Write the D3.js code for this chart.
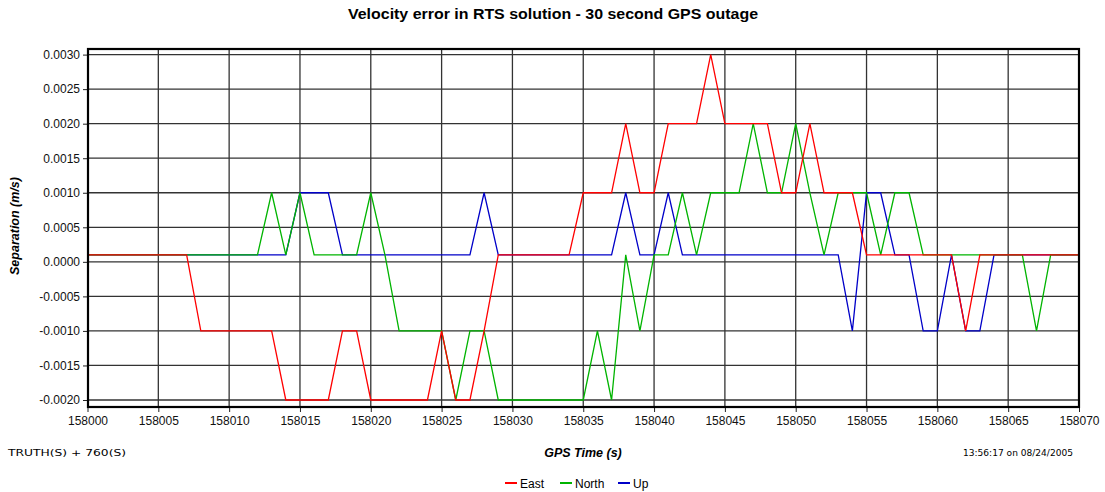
<!DOCTYPE html>
<html>
<head>
<meta charset="utf-8">
<script src="https://cdn.jsdelivr.net/npm/d3@7"></script>
<style>
  html, body { margin: 0; padding: 0; background: #fff; }
  svg { display: block; font-family: "Liberation Sans", Arial, sans-serif; }
</style>
</head>
<body>
<svg id="chart" width="1105" height="492"></svg>
<script>
// GPS time stamps, one sample per second
const times = d3.range(158000, 158071);

// Velocity separation per axis (m/s), one value per second
const east = [
  0.0001, 0.0001, 0.0001, 0.0001, 0.0001, 0.0001, 0.0001, 0.0001, -0.001, -0.001,
  -0.001, -0.001, -0.001, -0.001, -0.002, -0.002, -0.002, -0.002, -0.001, -0.001,
  -0.002, -0.002, -0.002, -0.002, -0.002, -0.001, -0.002, -0.002, -0.001, 0.0001,
  0.0001, 0.0001, 0.0001, 0.0001, 0.0001, 0.001, 0.001, 0.001, 0.002, 0.001,
  0.001, 0.002, 0.002, 0.002, 0.003, 0.002, 0.002, 0.002, 0.002, 0.001,
  0.001, 0.002, 0.001, 0.001, 0.001, 0.0001, 0.0001, 0.0001, 0.0001, 0.0001,
  0.0001, 0.0001, -0.001, 0.0001, 0.0001, 0.0001, 0.0001, 0.0001, 0.0001, 0.0001,
  0.0001
];
const north = [
  0.0001, 0.0001, 0.0001, 0.0001, 0.0001, 0.0001, 0.0001, 0.0001, 0.0001, 0.0001,
  0.0001, 0.0001, 0.0001, 0.001, 0.0001, 0.001, 0.0001, 0.0001, 0.0001, 0.0001,
  0.001, 0.0001, -0.001, -0.001, -0.001, -0.001, -0.002, -0.001, -0.001, -0.002,
  -0.002, -0.002, -0.002, -0.002, -0.002, -0.002, -0.001, -0.002, 0.0001, -0.001,
  0.0001, 0.0001, 0.001, 0.0001, 0.001, 0.001, 0.001, 0.002, 0.001, 0.001,
  0.002, 0.001, 0.0001, 0.001, 0.001, 0.001, 0.0001, 0.001, 0.001, 0.0001,
  0.0001, 0.0001, 0.0001, 0.0001, 0.0001, 0.0001, 0.0001, -0.001, 0.0001, 0.0001,
  0.0001
];
const up = [
  0.0001, 0.0001, 0.0001, 0.0001, 0.0001, 0.0001, 0.0001, 0.0001, 0.0001, 0.0001,
  0.0001, 0.0001, 0.0001, 0.0001, 0.0001, 0.001, 0.001, 0.001, 0.0001, 0.0001,
  0.0001, 0.0001, 0.0001, 0.0001, 0.0001, 0.0001, 0.0001, 0.0001, 0.001, 0.0001,
  0.0001, 0.0001, 0.0001, 0.0001, 0.0001, 0.0001, 0.0001, 0.0001, 0.001, 0.0001,
  0.0001, 0.001, 0.0001, 0.0001, 0.0001, 0.0001, 0.0001, 0.0001, 0.0001, 0.0001,
  0.0001, 0.0001, 0.0001, 0.0001, -0.001, 0.001, 0.001, 0.0001, 0.0001, -0.001,
  -0.001, 0.0001, -0.001, -0.001, 0.0001, 0.0001, 0.0001, 0.0001, 0.0001, 0.0001,
  0.0001
];

const xTicks = d3.range(158000, 158071, 5);
const yTicks = [0.003, 0.0025, 0.002, 0.0015, 0.001, 0.0005, 0, -0.0005, -0.001, -0.0015, -0.002];

const seriesNames = ["East", "North", "Up"];
const seriesColors = ["#ff0000", "#00b400", "#0000c8"];
const seriesValues = [east, north, up];

const svg = d3.select("#chart");

// plot frame
const frame = { left: 88, right: 1079, top: 49, bottom: 407 };

const x = d3.scaleLinear().domain([158000, 158070]).range([87.5, 1079]);
const y = d3.scaleLinear().domain([-0.002, 0.003]).range([400, 54.6]);

// gridlines
const grid = svg.append("g").attr("stroke", "#333").attr("stroke-width", 1.3);
grid.selectAll("line.h").data(yTicks).join("line")
  .attr("class", "h")
  .attr("x1", frame.left).attr("x2", frame.right)
  .attr("y1", d => y(d)).attr("y2", d => y(d));
grid.selectAll("line.v").data(xTicks.slice(1, -1)).join("line")
  .attr("class", "v")
  .attr("x1", d => x(d)).attr("x2", d => x(d))
  .attr("y1", frame.top).attr("y2", frame.bottom);

// axes (ticks and labels only; the frame is drawn separately)
const yAxis = d3.axisLeft(y).tickValues(yTicks).tickSize(5).tickPadding(3)
  .tickFormat(d => d3.format(".4f")(d).replace("\u2212", "-"));
const gy = svg.append("g").attr("transform", `translate(${frame.left},0)`).call(yAxis);
gy.select(".domain").remove();
gy.selectAll("text").attr("font-size", 12).attr("fill", "#111")
  .attr("font-family", "Liberation Sans, Arial, sans-serif");
gy.selectAll("line").attr("stroke", "#222");

const xAxis = d3.axisBottom(x).tickValues(xTicks).tickFormat(d3.format("d")).tickSize(5).tickPadding(4);
const gx = svg.append("g").attr("transform", `translate(0,${frame.bottom})`).call(xAxis);
gx.select(".domain").remove();
gx.selectAll("text").attr("font-size", 12).attr("fill", "#111")
  .attr("font-family", "Liberation Sans, Arial, sans-serif");
gx.selectAll("line").attr("stroke", "#222");

// data lines: Up first, then North, East on top
const line = d3.line().x((d, i) => x(times[i])).y(d => y(d));
[2, 1, 0].forEach(k => {
  svg.append("path")
    .datum(seriesValues[k])
    .attr("fill", "none")
    .attr("stroke", seriesColors[k])
    .attr("stroke-width", 1.3)
    .attr("d", line);
});

// frame
svg.append("rect")
  .attr("x", frame.left).attr("y", frame.top)
  .attr("width", frame.right - frame.left).attr("height", frame.bottom - frame.top)
  .attr("fill", "none").attr("stroke", "#000").attr("stroke-width", 2.2);

// title
svg.append("text")
  .attr("x", 553).attr("y", 19)
  .attr("text-anchor", "middle")
  .attr("font-weight", "bold").attr("font-size", 15)
  .attr("textLength", 410).attr("lengthAdjust", "spacingAndGlyphs")
  .text("Velocity error in RTS solution - 30 second GPS outage");

// y-axis title
svg.append("text")
  .attr("transform", "translate(19,226) rotate(-90)")
  .attr("text-anchor", "middle")
  .attr("font-weight", "bold").attr("font-style", "italic").attr("font-size", 12.5)
  .text("Separation (m/s)");

// x-axis title
svg.append("text")
  .attr("x", 583).attr("y", 457)
  .attr("text-anchor", "middle")
  .attr("font-weight", "bold").attr("font-style", "italic").attr("font-size", 12.5)
  .text("GPS Time (s)");

// footer notes
svg.append("text")
  .attr("x", 8).attr("y", 456)
  .attr("font-family", "DejaVu Sans, Verdana, sans-serif")
  .attr("font-size", 9)
  .attr("textLength", 118).attr("lengthAdjust", "spacingAndGlyphs")
  .text("TRUTH(S) + 760(S)");
svg.append("text")
  .attr("x", 963).attr("y", 456)
  .attr("font-family", "DejaVu Sans, Verdana, sans-serif")
  .attr("font-size", 9)
  .attr("textLength", 110).attr("lengthAdjust", "spacingAndGlyphs")
  .text("13:56:17 on 08/24/2005");

// legend
const legendX = [505, 560, 618];
const legend = svg.append("g");
seriesNames.forEach((name, k) => {
  const g = legend.append("g").attr("transform", `translate(${legendX[k]},483)`);
  g.append("line").attr("x1", 0).attr("x2", 12).attr("y1", 0).attr("y2", 0)
    .attr("stroke", seriesColors[k]).attr("stroke-width", 2);
  g.append("text").attr("x", 15).attr("y", 4.5).attr("font-size", 12).text(name);
});
</script>
</body>
</html>
